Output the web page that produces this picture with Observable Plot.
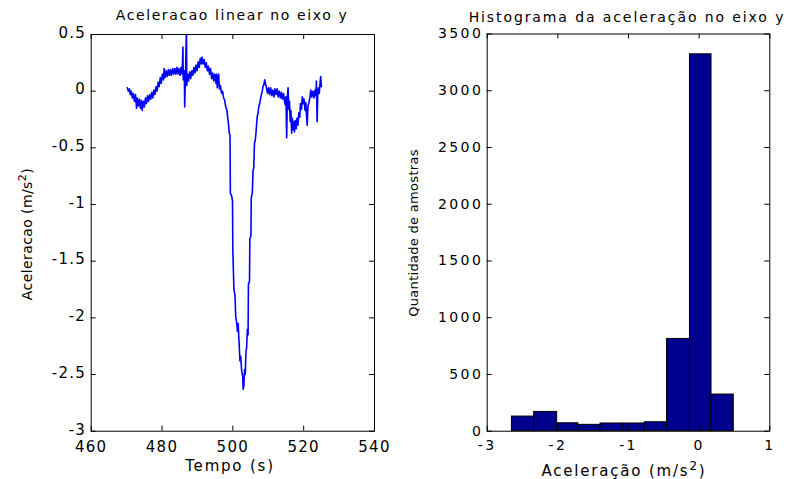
<!DOCTYPE html>
<html>
<head>
<meta charset="utf-8">
<script src="https://cdn.jsdelivr.net/npm/d3@7"></script>
<script src="https://cdn.jsdelivr.net/npm/@observablehq/plot@0.6"></script>
<style>
  html, body { margin: 0; padding: 0; background: #fff; }
  #wrap { position: relative; width: 795px; height: 479px; overflow: hidden; background: #fff; }
  #wrap svg { position: absolute; top: 0; background: transparent; overflow: visible; }
  .lbl { font-family: "DejaVu Sans", sans-serif; fill: #000; }
</style>
</head>
<body>
<div id="wrap"></div>
<script>
// ---- Left panel: time series ----
const tempo = [
  470.2,470.5,470.8,471.0,471.3,471.6,471.9,472.2,472.5,472.8,473.0,473.3,473.6,473.9,474.2,474.4,474.7,475.0,475.3,475.6,
  475.9,476.2,476.5,476.8,477.1,477.4,477.7,478.0,478.3,478.6,478.9,479.2,479.5,479.8,480.1,480.4,480.6,480.9,481.2,481.5,
  481.8,482.1,482.4,482.7,483.0,483.3,483.6,483.9,484.2,484.5,484.8,485.1,485.4,485.7,485.9,486.0,486.3,486.4,486.6,486.9,
  487.0,487.2,487.5,487.8,488.1,488.4,488.7,489.0,489.3,489.6,489.9,490.2,490.5,490.8,491.1,491.3,491.6,491.9,492.2,492.5,
  492.8,493.1,493.4,493.7,494.0,494.3,494.6,494.9,495.2,495.4,495.6,495.8,496.0,496.2,496.5,496.8,497.1,497.4,497.7,498.0,
  498.3,498.5,498.8,499.0,499.2,499.3,499.7,499.9,500.0,500.3,500.6,500.8,501.1,501.3,501.5,501.7,502.0,502.2,502.5,502.8,
  502.9,503.1,503.3,503.5,503.7,503.9,504.1,504.3,504.4,504.7,504.8,505.1,505.2,505.5,505.7,505.9,506.1,506.3,506.5,506.7,
  506.9,507.1,507.3,507.5,507.8,508.0,508.3,508.5,508.8,509.0,509.2,509.5,509.8,510.1,510.4,510.7,511.0,511.3,511.6,511.9,
  512.2,512.5,512.8,513.1,513.4,513.7,514.0,514.3,514.6,514.8,515.0,515.2,515.4,515.6,515.8,516.0,516.2,516.4,516.6,516.8,
  517.0,517.2,517.4,517.6,517.9,518.1,518.4,518.6,518.9,519.1,519.4,519.6,519.9,520.1,520.4,520.6,520.8,521.0,521.2,521.5,
  521.8,522.0,522.3,522.6,522.9,523.2,523.4,523.6,523.7,523.8,524.0,524.2,524.4,524.6,524.8,525.0
];
const aceleracao = [
  0.03,0.00,0.02,-0.03,0.0,-0.06,-0.02,-0.09,-0.03,-0.15,-0.06,-0.13,-0.07,-0.15,-0.08,-0.17,-0.09,-0.14,-0.06,-0.11,
  -0.04,-0.09,-0.03,-0.07,-0.01,-0.06,0.01,-0.03,0.04,0.0,0.08,0.04,0.12,0.07,0.15,0.10,0.20,0.12,0.18,0.13,
  0.19,0.14,0.19,0.14,0.20,0.15,0.20,0.15,0.21,0.15,0.20,0.14,0.21,0.15,0.39,0.10,0.18,-0.14,0.12,0.55,
  0.05,0.15,0.09,0.17,0.11,0.18,0.14,0.21,0.16,0.23,0.18,0.26,0.21,0.29,0.24,0.30,0.24,0.28,0.21,0.25,
  0.18,0.22,0.15,0.20,0.11,0.16,0.09,0.15,0.07,0.15,0.03,0.12,0.15,0.02,0.05,-0.02,0.0,-0.06,-0.08,-0.14,
  -0.16,-0.22,-0.30,-0.37,-0.39,-0.90,-0.93,-0.97,-1.41,-1.75,-1.80,-1.98,-2.05,-2.12,-2.05,-2.18,-2.38,-2.34,-2.47,-2.52,
  -2.63,-2.60,-2.46,-2.50,-2.30,-2.26,-2.10,-2.15,-1.70,-1.68,-1.30,-1.28,-0.94,-0.90,-0.70,-0.68,-0.46,-0.44,-0.38,-0.30,
  -0.22,-0.20,-0.14,-0.12,-0.07,-0.04,0.0,0.04,0.06,0.10,0.07,0.03,-0.02,0.03,-0.03,0.03,-0.04,0.01,-0.05,0.02,
  -0.03,0.02,-0.05,0.0,-0.06,-0.01,-0.07,-0.02,-0.09,-0.12,-0.05,-0.41,-0.05,0.03,-0.16,-0.09,-0.27,-0.17,-0.37,-0.24,
  -0.34,-0.27,-0.36,-0.26,-0.33,-0.24,-0.30,-0.19,-0.23,-0.11,-0.16,-0.05,-0.11,-0.07,-0.17,-0.10,-0.21,-0.30,-0.13,-0.10,
  -0.05,0.01,-0.05,0.0,-0.06,0.01,-0.04,0.09,-0.10,-0.27,0.0,0.03,-0.02,0.06,0.13,0.04
];
const xTicksLeft = [460, 480, 500, 520, 540];
const xTickLabelsLeft = ["460", "480", "500", "520", "540"];
const yTicksLeft = [0.5, 0, -0.5, -1, -1.5, -2, -2.5, -3];
const yTickLabelsLeft = ["0.5", "0", "-0.5", "-1", "-1.5", "-2", "-2.5", "-3"];

// ---- Right panel: histogram ----
const binEdges = [-2.65, -2.335, -2.01, -1.71, -1.395, -1.08, -0.77, -0.455, -0.13, 0.175, 0.49];
const contagens = [129, 170, 70, 56, 68, 68, 79, 813, 3321, 323];
const xTicksRight = [-3, -2, -1, 0, 1];
const xTickLabelsRight = ["-3", "-2", "-1", "0", "1"];
const yTicksRight = [0, 500, 1000, 1500, 2000, 2500, 3000, 3500];
const yTickLabelsRight = ["0", "500", "1000", "1500", "2000", "2500", "3000", "3500"];

const serie = tempo.map((t, i) => ({t, a: aceleracao[i]}));
const bins = contagens.map((c, i) => ({x1: binEdges[i], x2: binEdges[i + 1], c}));

function boxTicks(xTicks, yTicks, fw, fh, len) {
  return [
    Plot.tickX(xTicks, {x: d => d, insetTop: fh - len, stroke: "#000", strokeWidth: 1}),
    Plot.tickX(xTicks, {x: d => d, insetBottom: fh - len, stroke: "#000", strokeWidth: 1}),
    Plot.tickY(yTicks, {y: d => d, insetRight: fw - len, stroke: "#000", strokeWidth: 1}),
    Plot.tickY(yTicks, {y: d => d, insetLeft: fw - len, stroke: "#000", strokeWidth: 1})
  ];
}

// Left plot geometry
const L = {w: 400, h: 479, ml: 90.7, mr: 26, mt: 34, mb: 48.3};
const Lfw = L.w - L.ml - L.mr, Lfh = L.h - L.mt - L.mb;

const left = Plot.plot({
  width: L.w, height: L.h,
  marginLeft: L.ml, marginRight: L.mr, marginTop: L.mt, marginBottom: L.mb,
  style: {fontFamily: "DejaVu Sans", fontSize: "15px", letterSpacing: "1.3px", color: "#000", background: "transparent"},
  x: {domain: [460, 540]},
  y: {domain: [-3, 0.5]},
  marks: [
    Plot.line(serie, {x: "t", y: "a", stroke: "#0000ff", strokeWidth: 1.6, clip: true}),
    ...boxTicks(xTicksLeft, yTicksLeft, Lfw, Lfh, 5),
    Plot.axisX(xTicksLeft, {tickSize: 0, tickPadding: 10, label: null, tickFormat: d => xTickLabelsLeft[xTicksLeft.indexOf(d)]}),
    Plot.axisY(yTicksLeft, {tickSize: 0, tickPadding: 5, dy: -1.5, label: null, tickFormat: d => yTickLabelsLeft[yTicksLeft.indexOf(d)]}),
    Plot.frame({stroke: "#000", strokeWidth: 1})
  ]
});

// Right plot geometry
const R = {w: 395, h: 479, ml: 86.7, mr: 25.7, mt: 33.5, mb: 48.3};
const Rfw = R.w - R.ml - R.mr, Rfh = R.h - R.mt - R.mb;

const right = Plot.plot({
  width: R.w, height: R.h,
  marginLeft: R.ml, marginRight: R.mr, marginTop: R.mt, marginBottom: R.mb,
  style: {fontFamily: "DejaVu Sans", fontSize: "14px", letterSpacing: "2.4px", color: "#000", background: "transparent"},
  x: {domain: [-3, 1]},
  y: {domain: [0, 3500]},
  marks: [
    Plot.rectY(bins, {x1: "x1", x2: "x2", y: "c", fill: "#00008f", stroke: "#000", strokeWidth: 1}),
    ...boxTicks(xTicksRight, yTicksRight, Rfw, Rfh, 5),
    Plot.axisX(xTicksRight, {tickSize: 0, tickPadding: 9, label: null, tickFormat: d => xTickLabelsRight[xTicksRight.indexOf(d)]}),
    Plot.axisY(yTicksRight, {tickSize: 0, tickPadding: 4, label: null, tickFormat: d => yTickLabelsRight[yTicksRight.indexOf(d)]}),
    Plot.frame({stroke: "#000", strokeWidth: 1})
  ]
});

const wrap = document.getElementById("wrap");
left.style.left = "0px";
right.style.left = "400px";
wrap.appendChild(left);
wrap.appendChild(right);

// Titles and axis labels
function addText(svg, {x, y, text, sup, size, spacing, rotate, anchor = "middle"}) {
  const t = d3.select(svg).append("text")
    .attr("class", "lbl")
    .attr("text-anchor", anchor)
    .attr("font-size", size)
    .attr("letter-spacing", spacing)
    .attr("transform", `translate(${x},${y})${rotate ? ` rotate(${rotate})` : ""}`);
  t.append("tspan").text(text);
  if (sup) {
    t.append("tspan").attr("dy", -6).attr("font-size", size * 0.8).text(sup);
    t.append("tspan").attr("dy", 6).text(")");
  }
  return t;
}

addText(left, {x: 232, y: 20, text: "Aceleracao linear no eixo y", size: 14, spacing: 1.6});
addText(left, {x: 230, y: 471, text: "Tempo (s)", size: 15, spacing: 1.8});
addText(left, {x: 32, y: 234, text: "Aceleracao (m/s", sup: "2", size: 14, spacing: 0.4, rotate: -90});

addText(right, {x: 227, y: 22, text: "Histograma da aceleração no eixo y", size: 14, spacing: 1.9});
addText(right, {x: 224, y: 476, text: "Aceleração (m/s", sup: "2", size: 15, spacing: 1.8});
addText(right, {x: 18, y: 233, text: "Quantidade de amostras", size: 13, spacing: 0.3, rotate: -90});
</script>
</body>
</html>
